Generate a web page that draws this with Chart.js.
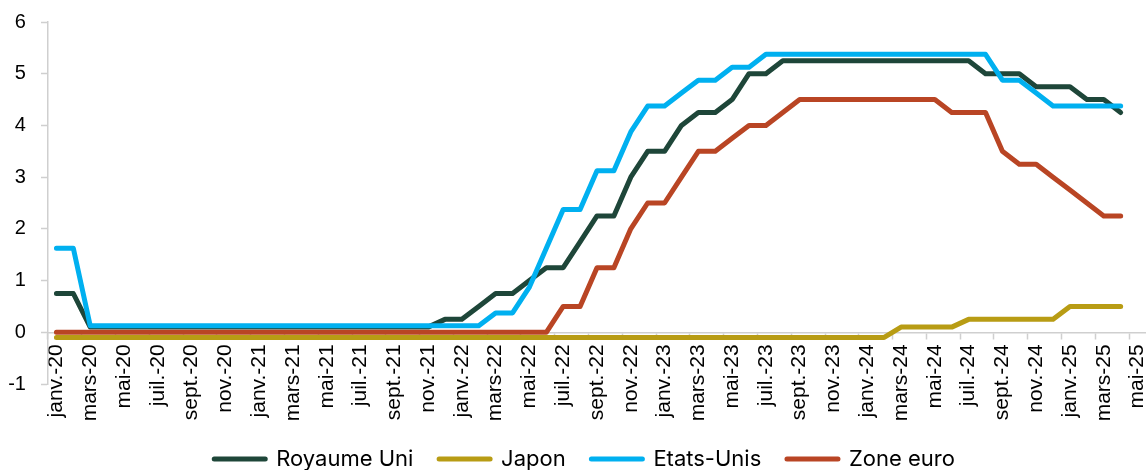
<!DOCTYPE html>
<html lang="fr">
<head>
<meta charset="utf-8">
<title>Taux directeurs</title>
<script src="https://cdn.jsdelivr.net/npm/chart.js@4.4.1/dist/chart.umd.min.js"></script>
<style>
  html, body { margin: 0; padding: 0; background: #ffffff; }
  #wrap { width: 1146px; height: 470px; }
</style>
</head>
<body>
<div id="wrap"><canvas id="chart" width="1146" height="470"></canvas></div>
<script>
// Mois (abréviations françaises) et années de l'axe horizontal
const monthNames = ['janv.', 'févr.', 'mars', 'avr.', 'mai', 'juin', 'juil.', 'août', 'sept.', 'oct.', 'nov.', 'déc.'];
const years = ['20', '21', '22', '23', '24', '25'];
const monthCount = 65; // janv.-20 ... mai-25

const categories = [];
for (const y of years) {
  for (const m of monthNames) {
    if (categories.length < monthCount) categories.push(m + '-' + y);
  }
}

// Taux directeurs mensuels (%), janv.-20 à avr.-25
const ukRate = [
  0.75, 0.75, 0.1, 0.1, 0.1, 0.1, 0.1, 0.1, 0.1, 0.1, 0.1, 0.1,
  0.1, 0.1, 0.1, 0.1, 0.1, 0.1, 0.1, 0.1, 0.1, 0.1, 0.1, 0.25,
  0.25, 0.5, 0.75, 0.75, 1.0, 1.25, 1.25, 1.75, 2.25, 2.25, 3.0, 3.5,
  3.5, 4.0, 4.25, 4.25, 4.5, 5.0, 5.0, 5.25, 5.25, 5.25, 5.25, 5.25,
  5.25, 5.25, 5.25, 5.25, 5.25, 5.25, 5.25, 5.0, 5.0, 5.0, 4.75, 4.75,
  4.75, 4.5, 4.5, 4.25
];
const japanRate = [
  -0.1, -0.1, -0.1, -0.1, -0.1, -0.1, -0.1, -0.1, -0.1, -0.1, -0.1, -0.1,
  -0.1, -0.1, -0.1, -0.1, -0.1, -0.1, -0.1, -0.1, -0.1, -0.1, -0.1, -0.1,
  -0.1, -0.1, -0.1, -0.1, -0.1, -0.1, -0.1, -0.1, -0.1, -0.1, -0.1, -0.1,
  -0.1, -0.1, -0.1, -0.1, -0.1, -0.1, -0.1, -0.1, -0.1, -0.1, -0.1, -0.1,
  -0.1, -0.1, 0.1, 0.1, 0.1, 0.1, 0.25, 0.25, 0.25, 0.25, 0.25, 0.25,
  0.5, 0.5, 0.5, 0.5
];
const usRate = [
  1.625, 1.625, 0.125, 0.125, 0.125, 0.125, 0.125, 0.125, 0.125, 0.125, 0.125, 0.125,
  0.125, 0.125, 0.125, 0.125, 0.125, 0.125, 0.125, 0.125, 0.125, 0.125, 0.125, 0.125,
  0.125, 0.125, 0.375, 0.375, 0.875, 1.625, 2.375, 2.375, 3.125, 3.125, 3.875, 4.375,
  4.375, 4.625, 4.875, 4.875, 5.125, 5.125, 5.375, 5.375, 5.375, 5.375, 5.375, 5.375,
  5.375, 5.375, 5.375, 5.375, 5.375, 5.375, 5.375, 5.375, 4.875, 4.875, 4.625, 4.375,
  4.375, 4.375, 4.375, 4.375
];
const euroRate = [
  0, 0, 0, 0, 0, 0, 0, 0, 0, 0, 0, 0,
  0, 0, 0, 0, 0, 0, 0, 0, 0, 0, 0, 0,
  0, 0, 0, 0, 0, 0, 0.5, 0.5, 1.25, 1.25, 2.0, 2.5,
  2.5, 3.0, 3.5, 3.5, 3.75, 4.0, 4.0, 4.25, 4.5, 4.5, 4.5, 4.5,
  4.5, 4.5, 4.5, 4.5, 4.5, 4.25, 4.25, 4.25, 3.5, 3.25, 3.25, 3.0,
  2.75, 2.5, 2.25, 2.25
];

const seriesNames = ['Royaume Uni', 'Japon', 'Etats-Unis', 'Zone euro'];
const seriesColors = ['#1e4639', '#b89c14', '#00b0f0', '#b94524'];
const yTicks = { min: -1, max: 6, step: 1 };

const axisGrey = '#cfcfcf';
const xTickFont = { family: "'Liberation Sans', Arial, sans-serif", size: 21 };
const yTickFont = { family: "'Liberation Sans', Arial, sans-serif", size: 20, lineHeight: 0.7 };

// Séries dessinées dans l'ordre : la dernière au-dessus
const seriesData = [ukRate, japanRate, usRate, euroRate];
const datasets = seriesData.map((data, i) => ({
  label: seriesNames[i],
  data: data,
  borderColor: seriesColors[i],
  backgroundColor: seriesColors[i],
  borderWidth: 5,
  borderCapStyle: 'round',
  borderJoinStyle: 'round',
  tension: 0,
  fill: false,
  pointRadius: 0,
  pointHoverRadius: 0,
  order: seriesData.length - i
}));

// Recentre la légende sous l'ensemble du graphique
const legendOffset = {
  id: 'legendOffset',
  afterLayout(chart) {
    if (!chart.legend) return;
    chart.legend.left += 15;
    chart.legend.right += 15;
  }
};

new Chart(document.getElementById('chart'), {
  type: 'line',
  data: { labels: categories, datasets: datasets },
  plugins: [legendOffset],
  options: {
    responsive: false,
    animation: false,
    devicePixelRatio: 1,
    events: [],
    layout: { padding: { top: 22, left: -6.8, right: 0, bottom: -10 } },
    scales: {
      x: {
        type: 'category',
        position: { y: 0 },
        offset: true,
        grid: {
          offset: true,
          drawOnChartArea: false,
          drawTicks: true,
          tickLength: 6,
          tickWidth: 1.5,
          tickColor: (ctx) => (ctx.index % 2 === 0 ? axisGrey : 'rgba(0,0,0,0)')
        },
        border: { display: true, color: axisGrey, width: 1.5 },
        ticks: {
          autoSkip: false,
          minRotation: 90,
          maxRotation: 90,
          padding: 6,
          color: '#000000',
          font: xTickFont,
          callback: function (value, index) {
            return index % 2 === 0 ? this.getLabelForValue(value) : '';
          }
        },
        afterFit: (scale) => { scale.paddingLeft = 0; scale.paddingRight = 0; }
      },
      y: {
        min: yTicks.min,
        max: yTicks.max,
        ticks: { stepSize: yTicks.step, padding: 15, color: '#000000', font: yTickFont },
        grid: { drawOnChartArea: false, tickLength: 7, tickWidth: 1.5, tickColor: axisGrey },
        border: { display: true, color: axisGrey, width: 1.5 }
      }
    },
    plugins: {
      tooltip: { enabled: false },
      legend: {
        position: 'bottom',
        title: { display: true, text: '', font: { size: 10, lineHeight: 1 }, padding: { top: 0, bottom: 28.3 } },
        labels: {
          usePointStyle: true,
          pointStyle: 'line',
          pointStyleWidth: 51,
          padding: 25.7,
          color: '#000000',
          font: { family: "Inter, 'Noto Sans', sans-serif", size: 22 },
          sort: (a, b) => a.datasetIndex - b.datasetIndex,
          generateLabels: (chart) =>
            Chart.defaults.plugins.legend.labels.generateLabels(chart).map((item) => ({
              ...item, lineCap: 'round', lineWidth: 5
            }))
        }
      }
    }
  }
});
</script>
</body>
</html>
